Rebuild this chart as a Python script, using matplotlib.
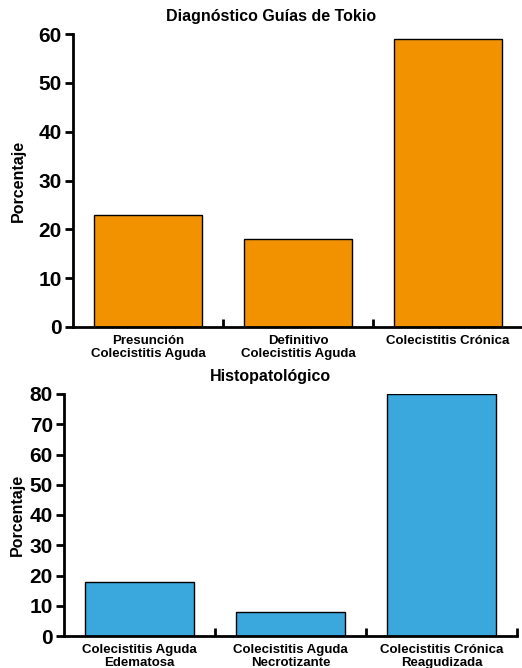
import matplotlib.pyplot as plt
import numpy as np

plt.rcParams['font.family'] = ['Liberation Sans', 'DejaVu Sans']
plt.rcParams['font.weight'] = 'bold'

# Data
cats_top = ['Presunción\nColecistitis Aguda', 'Definitivo\nColecistitis Aguda', 'Colecistitis Crónica']
vals_top = [23, 18, 59]
cats_bot = ['Colecistitis Aguda\nEdematosa', 'Colecistitis Aguda\nNecrotizante', 'Colecistitis Crónica\nReagudizada']
vals_bot = [18, 8, 80]

orange = '#F39200'
blue = '#3AA8DC'

fig = plt.figure(figsize=(5.22, 6.68), dpi=100)
ax1 = fig.add_axes([73 / 522, 1 - 327 / 668, 450 / 522, 293 / 668])
ax2 = fig.add_axes([64 / 522, 1 - 636 / 668, 453 / 522, 242 / 668])


def style_axes(ax, cats, vals, color, ymax):
    x = np.arange(len(cats))
    ax.bar(x, vals, width=0.72, color=color, edgecolor='black', linewidth=1)
    ax.set_xlim(-0.5, len(cats) - 0.5)
    ax.set_ylim(0, ymax)
    ax.set_yticks(range(0, ymax + 1, 10))
    for s in ['top', 'right']:
        ax.spines[s].set_visible(False)
    for s in ['left', 'bottom']:
        ax.spines[s].set_linewidth(2)
    ax.tick_params(axis='y', direction='out', length=6, width=2, labelsize=15, pad=2)
    # boundary ticks on x
    ax.set_xticks(x + 0.5)
    ax.set_xticklabels([])
    ax.tick_params(axis='x', direction='in', length=6, width=2)
    ax.set_xticks(x, minor=True)
    ax.set_xticklabels(cats, minor=True, fontsize=9.5, fontweight='bold', linespacing=1.05)
    ax.tick_params(axis='x', which='minor', length=0, pad=6)
    for lab in ax.get_yticklabels():
        lab.set_fontweight('bold')
    ax.set_ylabel('Porcentaje', fontsize=11.5, fontweight='bold')


style_axes(ax1, cats_top, vals_top, orange, 60)
style_axes(ax2, cats_bot, vals_bot, blue, 80)
ax1.yaxis.set_label_coords(-0.105, 0.5)
ax2.yaxis.set_label_coords(-0.086, 0.5)

fig.text(271 / 522, 1 - 17 / 668, 'Diagnóstico Guías de Tokio', ha='center', va='center',
         fontsize=11.5, fontweight='bold')
fig.text(270 / 522, 1 - 377 / 668, 'Histopatológico', ha='center', va='center',
         fontsize=11.5, fontweight='bold')

fig.savefig('out.png', dpi=100)
